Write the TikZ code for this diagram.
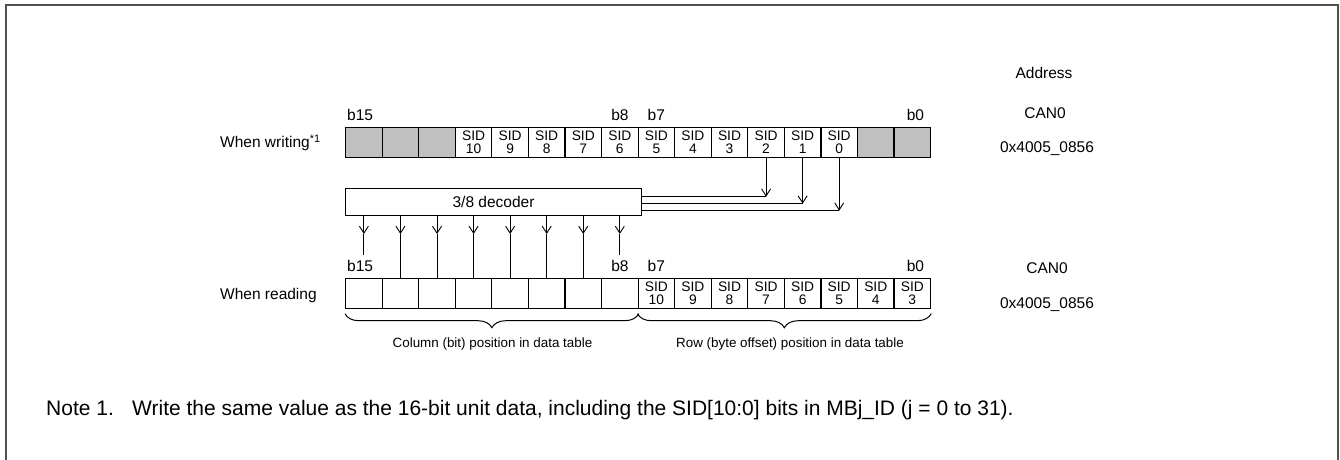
\documentclass[tikz,border=0pt]{standalone}
\usepackage{fontspec}
\setmainfont{Liberation Sans}
\usetikzlibrary{arrows.meta,decorations.pathreplacing}
\definecolor{regfill}{HTML}{C0C0C0}
\definecolor{framegray}{HTML}{505050}
\tikzset{
  cell/.style={draw,line width=1.2pt,minimum width=36.5625pt,minimum height=30pt,
    inner sep=0pt,anchor=north west,align=center,font=\fontsize{13.8}{13}\selectfont},
  lbl/.style={inner sep=0pt,font=\fontsize{15.5}{18}\selectfont},
  small/.style={inner sep=0pt,font=\fontsize{13.4}{16}\selectfont},
  barb/.style={-{Straight Barb[length=7pt,width=9pt]},line width=0.9pt},
  wire/.style={line width=0.9pt},
}
\begin{document}
\begin{tikzpicture}[x=1pt,y=-1pt]
  \useasboundingbox (0,0) rectangle (1340,459);
  \draw[framegray,line width=2pt] (6,470) -- (6,5) -- (1338,5) -- (1338,470);
  % write register
  \foreach \b in {15,14,13,1,0}
    \node[cell,fill=regfill] (w\b) at ({345+(15-\b)*36.5625},126.5) {};
  \foreach \b [evaluate=\b as \n using int(\b-2)] in {12,...,2}
    \node[cell] (w\b) at ({345+(15-\b)*36.5625},126.5) {SID\\\n};
  % read register
  \foreach \b in {15,...,8}
    \node[cell] (r\b) at ({345+(15-\b)*36.5625},277.5) {};
  \foreach \b [evaluate=\b as \n using int(\b+3)] in {7,...,0}
    \node[cell] (r\b) at ({345+(15-\b)*36.5625},277.5) {SID\\\n};
  % bit numbers
  \node[lbl,anchor=south west] (up15) at ([xshift=2pt,yshift=6pt]w15.north west) {b15};
  \node[lbl,anchor=south east] (up8) at ([xshift=-10pt,yshift=6pt]w8.north east) {b8};
  \node[lbl,anchor=south west] (up7) at ([xshift=10pt,yshift=6pt]w7.north west) {b7};
  \node[lbl,anchor=south east] (up0) at ([xshift=-7pt,yshift=6pt]w0.north east) {b0};
  \node[lbl,anchor=south west] (lo15) at ([xshift=2pt,yshift=6pt]r15.north west) {b15};
  \node[lbl,anchor=south east] (lo8) at ([xshift=-10pt,yshift=6pt]r8.north east) {b8};
  \node[lbl,anchor=south west] (lo7) at ([xshift=10pt,yshift=6pt]r7.north west) {b7};
  \node[lbl,anchor=south east] (lo0) at ([xshift=-7pt,yshift=6pt]r0.north east) {b0};
  \node[lbl,anchor=west] (wr) at (220,143) {When writing\textsuperscript{*1}};
  \node[lbl,anchor=west] (rd) at (220,295) {When reading};
  % decoder
  \node[draw,line width=1pt,minimum width=296pt,minimum height=27pt,anchor=north west,
    lbl] (dec) at (345,188) {3/8 decoder};
  \foreach \b/\d in {4/39,3/46,2/53} {
    \draw[barb] (w\b.south) -- ++(0,\d) coordinate (t\b);
    \draw[wire] (dec.east |- t\b) -- (t\b);
  }
  \foreach \b in {15,...,8}
    \draw[barb] (dec.south -| r\b.north) -- ++(0,18) coordinate (o\b);
  \foreach \b in {14,...,9}
    \draw[wire] (o\b) -- (r\b.north);
  \draw[wire] (o15) -- ([yshift=5pt]o15 |- lo15.north);
  \draw[wire] (o8) -- ([yshift=5pt]o8 |- lo8.north);
  % braces
  \draw[line width=1pt,decorate,decoration={brace,mirror,amplitude=14pt,raise=5pt}]
    (r15.south west) -- (r8.south east);
  \draw[line width=1pt,decorate,decoration={brace,mirror,amplitude=14pt,raise=5pt}]
    (r7.south west) -- (r0.south east);
  \node[small] (coltxt) at (492.5,344) {Column (bit) position in data table};
  \node[small] (rowtxt) at (790,344) {Row (byte offset) position in data table};
  % addresses
  \node[lbl] (addr) at (1044,73) {Address};
  \node[lbl] (can0w) at (1045,113) {CAN0};
  \node[lbl] (addrw) at (1047,149) {0x4005\_0856};
  \node[lbl] (can0r) at (1047,268) {CAN0};
  \node[lbl] (addrr) at (1047,305) {0x4005\_0856};
  % note
  \node[inner sep=0pt,anchor=west,font=\fontsize{21}{24}\selectfont] (note) at (46,410)
    {\makebox[86pt][l]{Note 1.}Write the same value as the 16-bit unit data, including the SID[10:0] bits in MBj\_ID (j = 0 to 31).};
\end{tikzpicture}
\end{document}
